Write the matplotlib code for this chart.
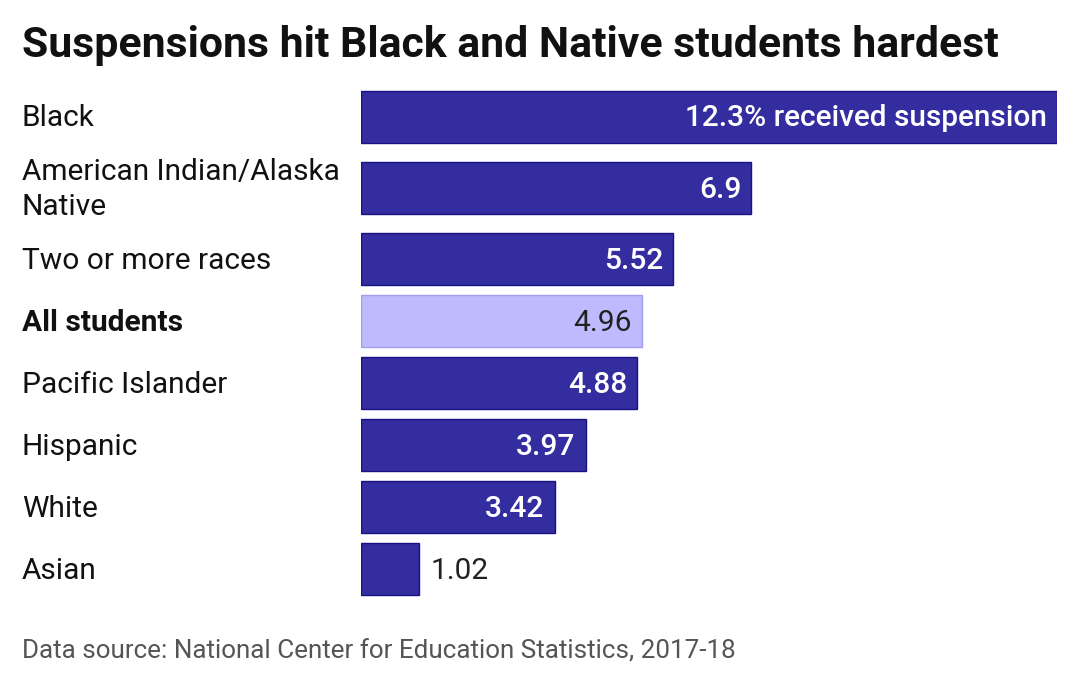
import matplotlib.pyplot as plt
import numpy as np

plt.rcParams['font.family'] = ['Roboto', 'DejaVu Sans']

# Suspension rates by race/ethnicity, 2017-18
groups = ['Black', 'American Indian/Alaska\nNative', 'Two or more races', 'All students',
          'Pacific Islander', 'Hispanic', 'White', 'Asian']
rates = [12.3, 6.9, 5.52, 4.96, 4.88, 3.97, 3.42, 1.02]
value_labels = ['12.3% received suspension', '6.9', '5.52', '4.96', '4.88', '3.97', '3.42', '1.02']
highlight = 'All students'

dark = '#332da0'
dark_edge = '#1a1282'
light = '#bdbbfd'
light_edge = '#a29ef2'

W, H = 1080, 686
fig = plt.figure(figsize=(W / 100, H / 100), dpi=100)

# row heights: two-line labels take a taller row
row_h = np.array([1.0 + 0.306 * (g.count('\n')) for g in groups])
centers = np.cumsum(row_h) - row_h / 2
total = row_h.sum()

top_px, bottom_px = 85.5, 600.5
left_px, right_px = 361, 1057
ax = fig.add_axes([left_px / W, 1 - bottom_px / H, (right_px - left_px) / W, (bottom_px - top_px) / H])
ax.set_xlim(0, max(rates))
ax.set_ylim(total, 0)
ax.axis('off')

bar_h = 52 / 62
fs = 21.5
for g, r, lab, y in zip(groups, rates, value_labels, centers):
    is_all = g == highlight
    ax.barh(y, r, height=bar_h, color=light if is_all else dark,
            edgecolor=light_edge if is_all else dark_edge, linewidth=1)
    if r > 2:
        ax.annotate(lab, (r, y), xytext=(-7.2, -1.2), textcoords='offset points', ha='right', va='center',
                    fontsize=fs, color='#222222' if is_all else 'white',
                    fontweight='normal' if is_all else 'medium')
    else:
        ax.annotate(lab, (r, y), xytext=(8.4, -1.2), textcoords='offset points', ha='left', va='center',
                    fontsize=fs, color='#222222')
    fig.text(22 / W, 1 - (top_px + y * 62 + 1.5) / H, g, ha='left', va='center', fontsize=fs,
             color='#111111', fontweight='bold' if is_all else 'normal', linespacing=1.36)

fig.text(22 / W, 1 - 46 / H, 'Suspensions hit Black and Native students hardest', ha='left', va='center',
         fontsize=30.8, fontweight='bold', color='#111111')
fig.text(22 / W, 1 - 652 / H, 'Data source: National Center for Education Statistics, 2017-18',
         ha='left', va='center', fontsize=18.7, color='#555555')

fig.savefig('out.png', dpi=100, facecolor='white')
